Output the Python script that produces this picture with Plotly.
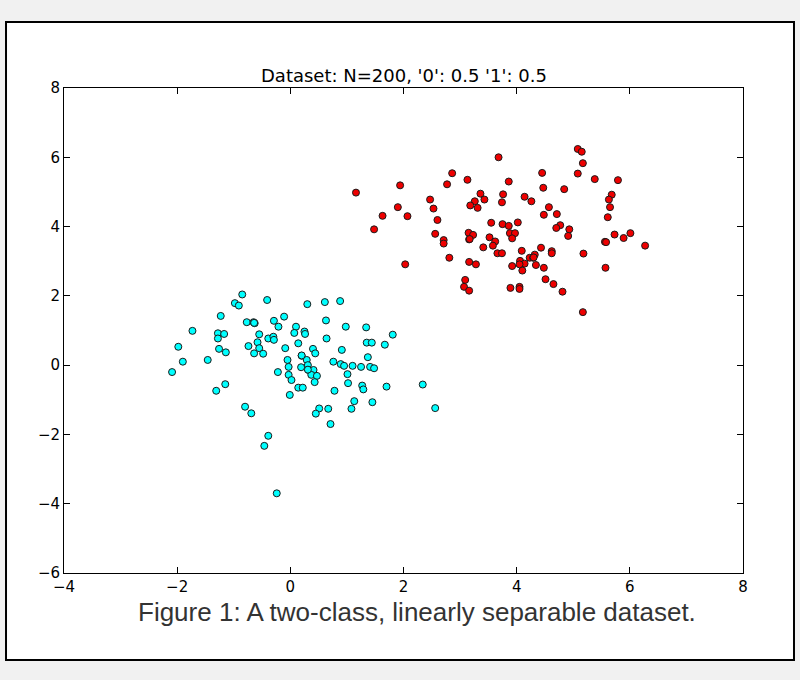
import plotly.graph_objects as go

# Class '0' samples (cyan)
x0 = [-0.85, -0.41, -0.98, -0.91, 0.30, -1.23, -0.11, -0.77, -0.65, -0.63,
      -0.29, -0.21, 0.10, -1.73, -1.28, -1.17, -1.28, -0.55, 0.07, 0.25,
      0.26, -0.39, -0.30, -0.29, -0.58, 0.14, -1.98, -1.26, -1.14, -0.74,
      -0.55, -0.09, -0.64, -0.48, 0.20, -1.46, -1.90, -0.05, 0.29, -0.03,
      0.19, 0.31, 0.32, -2.09, -0.22, -0.03, 0.02, -1.15, -1.31, 0.14,
      0.22, -0.01, 0.61, 0.88, 0.63, 0.98, 1.34, 1.81, 0.64, 1.35,
      1.44, 1.67, 0.40, 0.44, 0.91, 0.41, 0.37, 0.47, 0.43, 0.76,
      0.89, 0.95, 1.10, 1.25, 1.41, 1.48, 1.37, 1.01, 1.02, 1.27,
      1.29, 1.70, 2.34, 0.78, -0.80, -0.69, -0.39, -0.46, -0.24, 1.13,
      1.45, 0.51, 0.45, 0.67, 1.08, 2.56, 0.71, 0.31, -0.64, 0.20]
y0 = [2.04, 1.88, 1.79, 1.72, 1.76, 1.42, 1.40, 1.24, 1.24, 1.21,
      1.28, 1.11, 1.11, 0.99, 0.92, 0.90, 0.77, 0.89, 0.93, 0.97,
      0.90, 0.77, 0.82, 0.73, 0.66, 0.63, 0.53, 0.47, 0.37, 0.55,
      0.49, 0.49, 0.34, 0.33, 0.27, 0.15, 0.10, 0.15, 0.15, -0.05,
      -0.06, 0.00, -0.14, -0.20, -0.20, -0.28, -0.43, -0.55, -0.74, -0.65,
      -0.65, -0.86, 1.82, 1.85, 1.29, 1.11, 1.09, 0.88, 0.77, 0.65,
      0.65, 0.59, 0.47, 0.34, 0.44, -0.14, -0.28, -0.31, -0.49, 0.10,
      0.03, -0.02, -0.02, -0.05, -0.05, -0.09, 0.23, -0.26, -0.52, -0.59,
      -0.70, -0.62, -0.56, -0.74, -1.20, -1.39, -2.04, -2.33, -3.70, -1.04,
      -1.07, -1.25, -1.40, -1.26, -1.26, -1.24, -1.70, -0.13, 1.22, 0.28]

# Class '1' samples (red)
x1 = [3.68, 1.16, 1.94, 2.86, 2.77, 3.13, 2.47, 2.53, 1.90, 1.63,
      2.07, 2.60, 1.48, 3.36, 3.26, 3.43, 3.18, 3.31, 3.55, 5.08,
      5.15, 5.17, 4.45, 5.08, 3.86, 5.38, 5.79, 4.47, 4.84, 3.76,
      3.74, 4.14, 4.26, 5.68, 5.63, 4.57, 4.48, 4.71, 5.65, 5.61,
      3.75, 3.86, 4.02, 4.77, 4.70, 4.93, 2.56, 2.71, 2.71, 3.15,
      3.23, 3.16, 3.52, 3.62, 3.58, 3.41, 3.66, 2.81, 2.03, 3.16,
      3.28, 3.09, 3.07, 3.16, 3.88, 3.97, 3.92, 3.74, 4.91, 5.56,
      5.58, 5.73, 5.89, 6.01, 6.27, 4.43, 4.09, 4.62, 4.62, 4.32,
      4.23, 4.29, 4.06, 4.14, 4.05, 3.92, 4.10, 4.34, 4.48, 5.18,
      5.57, 4.51, 4.65, 3.89, 4.05, 4.05, 4.81, 5.17, 4.30, 3.17]
y1 = [6.00, 4.98, 5.19, 5.54, 5.22, 5.35, 4.78, 4.52, 4.56, 4.31,
      4.30, 4.19, 3.92, 4.95, 4.73, 4.78, 4.61, 4.54, 4.11, 6.24,
      6.16, 5.83, 5.55, 5.53, 5.30, 5.37, 5.34, 5.12, 5.08, 4.93,
      4.70, 4.86, 4.73, 4.92, 4.78, 4.56, 4.34, 4.36, 4.56, 4.27,
      4.07, 4.02, 4.12, 4.04, 3.96, 3.92, 3.79, 3.61, 3.51, 3.82,
      3.76, 3.63, 3.69, 3.57, 3.45, 3.40, 3.23, 3.10, 2.91, 2.98,
      2.91, 2.46, 2.26, 2.15, 3.81, 3.81, 3.66, 3.23, 3.73, 3.56,
      3.55, 3.77, 3.67, 3.81, 3.45, 3.39, 3.30, 3.29, 3.23, 3.19,
      3.10, 3.10, 3.01, 2.93, 2.91, 2.86, 2.73, 2.89, 2.81, 3.22,
      2.81, 2.48, 2.34, 2.23, 2.26, 2.20, 2.12, 1.53, 3.11, 3.64]

x_ticks = [-4, -2, 0, 2, 4, 6, 8]
y_ticks = [-6, -4, -2, 0, 2, 4, 6, 8]

title_text = "Dataset: N=200, '0': 0.5 '1': 0.5"
caption_text = "Figure 1: A two-class, linearly separable dataset."

marker_line = dict(color="#1a1a1a", width=1)

fig = go.Figure()
fig.add_trace(go.Scatter(
    x=x0, y=y0, mode="markers", name="0",
    marker=dict(color="#00ffff", size=7, line=marker_line),
))
fig.add_trace(go.Scatter(
    x=x1, y=y1, mode="markers", name="1",
    marker=dict(color="#ee0000", size=7, line=marker_line),
))

axis_common = dict(
    showgrid=False, zeroline=False, showline=True, linecolor="black",
    linewidth=1, mirror="allticks", ticks="inside", ticklen=6,
    tickcolor="black", tickwidth=1,
    tickfont=dict(family="DejaVu Sans", size=15, color="black"),
)

fig.update_xaxes(range=[-4, 8], tickvals=x_ticks,
                 ticktext=[str(v).replace("-", "\u2212") for v in x_ticks],
                 **axis_common)
fig.update_yaxes(range=[-6, 8], tickvals=y_ticks,
                 ticktext=[str(v).replace("-", "\u2212") for v in y_ticks],
                 **axis_common)

# framed white panel around the figure
fig.add_shape(type="rect", xref="paper", yref="paper",
              x0=-0.0854, x1=1.0751, y0=-0.1794, y1=1.1361,
              fillcolor="white", line=dict(color="black", width=2),
              layer="below")

fig.add_annotation(text=title_text, xref="paper", yref="paper",
                   x=0.5, y=1.0, yanchor="bottom", yshift=0, showarrow=False,
                   font=dict(family="DejaVu Sans", size=18, color="black"))
fig.add_annotation(text=caption_text, xref="paper", yref="paper",
                   x=0.5, y=-0.0804, xshift=13, yanchor="middle", showarrow=False,
                   font=dict(family="Liberation Sans", size=26, color="#333333"))

fig.update_layout(
    width=800, height=680,
    margin=dict(l=64, r=57, t=88, b=107),
    paper_bgcolor="#f1f1f1", plot_bgcolor="white",
    showlegend=False,
)

fig.write_html("out.html")
